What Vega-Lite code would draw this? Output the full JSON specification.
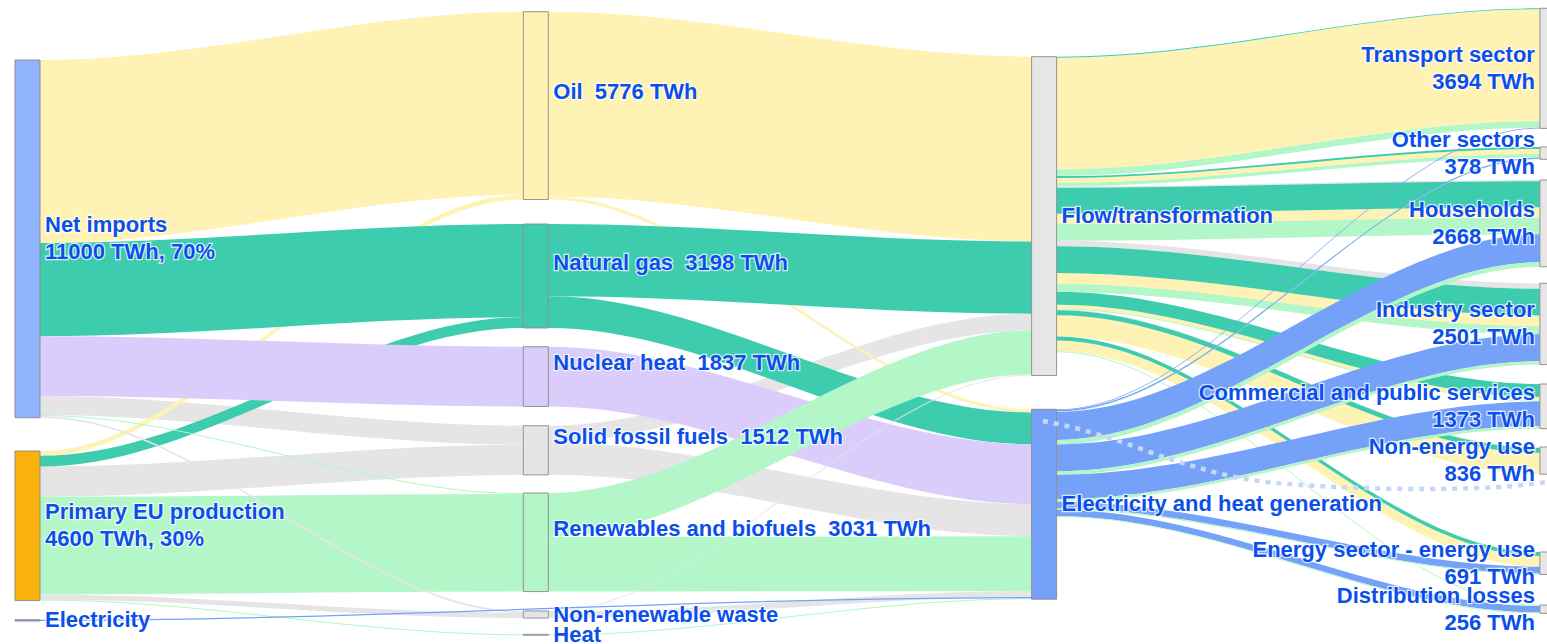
{
  "$schema": "https://vega.github.io/schema/vega-lite/v6.json",
  "width": 1547,
  "height": 644,
  "padding": 0,
  "autosize": {"type": "none"},
  "background": "white",
  "config": {"view": {"stroke": null}},
  "datasets": {
    "nodes": [
      {"name": "Net imports", "col": 0, "top": 1845, "value": 11000, "tone": "imports", "label": ["Net imports", "11000 TWh, 70%"]},
      {"name": "Primary EU production", "col": 0, "top": 13868, "value": 4600, "tone": "production", "label": ["Primary EU production", "4600 TWh, 30%"]},
      {"name": "Electricity", "col": 0, "top": 19056, "value": 40, "tone": "elec", "label": "Electricity"},
      {"name": "Oil", "col": 1, "top": 360, "value": 5776, "tone": "oil", "label": ["Oil \u00a05776 TWh", "\u00a0"]},
      {"name": "Natural gas", "col": 1, "top": 6888, "value": 3198, "tone": "gas", "label": ["Natural gas \u00a03198 TWh", "\u00a0"]},
      {"name": "Nuclear heat", "col": 1, "top": 10661, "value": 1837, "tone": "nuclear", "label": ["Nuclear heat \u00a01837 TWh", "\u00a0"]},
      {"name": "Solid fossil fuels", "col": 1, "top": 13090, "value": 1512, "tone": "solid", "label": ["Solid fossil fuels \u00a01512 TWh", "\u00a0"]},
      {"name": "Renewables and biofuels", "col": 1, "top": 15160, "value": 3031, "tone": "renew", "label": ["Renewables and biofuels \u00a03031 TWh", "\u00a0"]},
      {"name": "Non-renewable waste", "col": 1, "top": 18788, "value": 216, "tone": "solid", "label": "Non-renewable waste"},
      {"name": "Heat", "col": 1, "top": 19505, "value": 30, "tone": "solid", "label": "Heat"},
      {"name": "Flow/transformation", "col": 2, "top": 1744, "value": 9800, "tone": "neutral", "label": "Flow/transformation"},
      {"name": "Electricity and heat generation", "col": 2, "top": 12586, "value": 5840, "tone": "elec", "label": "Electricity and heat generation"},
      {"name": "Transport sector", "col": 3, "top": 255, "value": 3694, "tone": "neutral", "label": ["Transport sector\u00a0", "3694 TWh"]},
      {"name": "Other sectors", "col": 3, "top": 4520, "value": 378, "tone": "neutral", "label": ["Other sectors\u00a0", "378 TWh"]},
      {"name": "Households", "col": 3, "top": 5535, "value": 2668, "tone": "neutral", "label": ["Households\u00a0", "2668 TWh"]},
      {"name": "Industry sector", "col": 3, "top": 8711, "value": 2501, "tone": "neutral", "label": ["Industry sector\u00a0", "2501 TWh"]},
      {"name": "Commercial and public services", "col": 3, "top": 11808, "value": 1373, "tone": "neutral", "label": ["Commercial and public services\u00a0", "1373 TWh"]},
      {"name": "Non-energy use", "col": 3, "top": 13745, "value": 836, "tone": "neutral", "label": ["Non-energy use\u00a0", "836 TWh"]},
      {"name": "Energy sector - energy use", "col": 3, "top": 16974, "value": 691, "tone": "neutral", "label": ["Energy sector - energy use\u00a0", "691 TWh"]},
      {"name": "Distribution losses", "col": 3, "top": 18604, "value": 256, "tone": "neutral", "label": ["Distribution losses\u00a0", "256 TWh"]}
    ],
    "links": [
      {"source": "Net imports", "target": "Solid fossil fuels", "value": 582, "tone": "solid"},
      {"source": "Primary EU production", "target": "Solid fossil fuels", "value": 930, "tone": "solid"},
      {"source": "Solid fossil fuels", "target": "Flow/transformation", "value": 520, "tone": "solid"},
      {"source": "Solid fossil fuels", "target": "Electricity and heat generation", "value": 992, "tone": "solid"},
      {"source": "Net imports", "target": "Oil", "value": 5626, "tone": "oil"},
      {"source": "Primary EU production", "target": "Oil", "value": 150, "tone": "oil"},
      {"source": "Oil", "target": "Flow/transformation", "value": 5680, "tone": "oil"},
      {"source": "Oil", "target": "Electricity and heat generation", "value": 96, "tone": "oil"},
      {"source": "Net imports", "target": "Natural gas", "value": 2868, "tone": "gas"},
      {"source": "Primary EU production", "target": "Natural gas", "value": 330, "tone": "gas"},
      {"source": "Natural gas", "target": "Flow/transformation", "value": 2220, "tone": "gas"},
      {"source": "Natural gas", "target": "Electricity and heat generation", "value": 978, "tone": "gas"},
      {"source": "Net imports", "target": "Nuclear heat", "value": 1837, "tone": "nuclear"},
      {"source": "Nuclear heat", "target": "Electricity and heat generation", "value": 1837, "tone": "nuclear"},
      {"source": "Net imports", "target": "Renewables and biofuels", "value": 31, "tone": "renew"},
      {"source": "Primary EU production", "target": "Renewables and biofuels", "value": 3000, "tone": "renew"},
      {"source": "Renewables and biofuels", "target": "Flow/transformation", "value": 1350, "tone": "renew"},
      {"source": "Renewables and biofuels", "target": "Electricity and heat generation", "value": 1681, "tone": "renew"},
      {"source": "Net imports", "target": "Non-renewable waste", "value": 56, "tone": "solid"},
      {"source": "Primary EU production", "target": "Non-renewable waste", "value": 160, "tone": "solid"},
      {"source": "Non-renewable waste", "target": "Flow/transformation", "value": 30, "tone": "solid"},
      {"source": "Non-renewable waste", "target": "Electricity and heat generation", "value": 186, "tone": "solid"},
      {"source": "Primary EU production", "target": "Heat", "value": 30, "tone": "heat"},
      {"source": "Heat", "target": "Electricity and heat generation", "value": 30, "tone": "heat"},
      {"source": "Electricity", "target": "Electricity and heat generation", "value": 40, "tone": "elec"},
      {"source": "Flow/transformation", "target": "Households", "value": 40, "tone": "solid"},
      {"source": "Flow/transformation", "target": "Industry sector", "value": 170, "tone": "solid"},
      {"source": "Flow/transformation", "target": "Non-energy use", "value": 30, "tone": "solid"},
      {"source": "Flow/transformation", "target": "Transport sector", "value": 3440, "tone": "oil"},
      {"source": "Flow/transformation", "target": "Other sectors", "value": 150, "tone": "oil"},
      {"source": "Flow/transformation", "target": "Households", "value": 310, "tone": "oil"},
      {"source": "Flow/transformation", "target": "Industry sector", "value": 330, "tone": "oil"},
      {"source": "Flow/transformation", "target": "Commercial and public services", "value": 110, "tone": "oil"},
      {"source": "Flow/transformation", "target": "Non-energy use", "value": 656, "tone": "oil"},
      {"source": "Flow/transformation", "target": "Energy sector - energy use", "value": 330, "tone": "oil"},
      {"source": "Flow/transformation", "target": "Transport sector", "value": 30, "tone": "gas"},
      {"source": "Flow/transformation", "target": "Other sectors", "value": 60, "tone": "gas"},
      {"source": "Flow/transformation", "target": "Households", "value": 800, "tone": "gas"},
      {"source": "Flow/transformation", "target": "Industry sector", "value": 820, "tone": "gas"},
      {"source": "Flow/transformation", "target": "Commercial and public services", "value": 400, "tone": "gas"},
      {"source": "Flow/transformation", "target": "Non-energy use", "value": 150, "tone": "gas"},
      {"source": "Flow/transformation", "target": "Energy sector - energy use", "value": 120, "tone": "gas"},
      {"source": "Flow/transformation", "target": "Transport sector", "value": 200, "tone": "renew"},
      {"source": "Flow/transformation", "target": "Other sectors", "value": 110, "tone": "renew"},
      {"source": "Flow/transformation", "target": "Households", "value": 520, "tone": "renew"},
      {"source": "Flow/transformation", "target": "Industry sector", "value": 250, "tone": "renew"},
      {"source": "Flow/transformation", "target": "Commercial and public services", "value": 30, "tone": "renew"},
      {"source": "Flow/transformation", "target": "Distribution losses", "value": 30, "tone": "renew"},
      {"source": "Electricity and heat generation", "target": "Transport sector", "value": 24, "tone": "elec"},
      {"source": "Electricity and heat generation", "target": "Other sectors", "value": 40, "tone": "elec"},
      {"source": "Electricity and heat generation", "target": "Other sectors", "value": 18, "tone": "heat"},
      {"source": "Electricity and heat generation", "target": "Households", "value": 860, "tone": "elec"},
      {"source": "Electricity and heat generation", "target": "Households", "value": 138, "tone": "heat"},
      {"source": "Electricity and heat generation", "target": "Industry sector", "value": 830, "tone": "elec"},
      {"source": "Electricity and heat generation", "target": "Industry sector", "value": 101, "tone": "heat"},
      {"source": "Electricity and heat generation", "target": "Commercial and public services", "value": 750, "tone": "elec"},
      {"source": "Electricity and heat generation", "target": "Commercial and public services", "value": 83, "tone": "heat"},
      {"source": "Electricity and heat generation", "target": "Energy sector - energy use", "value": 210, "tone": "elec"},
      {"source": "Electricity and heat generation", "target": "Energy sector - energy use", "value": 31, "tone": "heat"},
      {"source": "Electricity and heat generation", "target": "Distribution losses", "value": 200, "tone": "elec"},
      {"source": "Electricity and heat generation", "target": "Distribution losses", "value": 26, "tone": "heat"}
    ],
    "lossPath": [
      {"x": 2.0224, "y": 12946},
      {"x": 2.0854, "y": 13161},
      {"x": 2.1542, "y": 13469},
      {"x": 2.2723, "y": 14114},
      {"x": 2.4100, "y": 14699},
      {"x": 2.5674, "y": 14945},
      {"x": 2.7641, "y": 15037},
      {"x": 2.9215, "y": 14975},
      {"x": 3.0140, "y": 14822}
    ]
  },
  "layer": [
    {
      "data": {"name": "links"},
      "transform": [
        {"lookup": "source", "from": {"data": {"name": "nodes"}, "key": "name", "fields": ["col", "top"]}, "as": ["sCol", "sTop"]},
        {"lookup": "target", "from": {"data": {"name": "nodes"}, "key": "name", "fields": ["col", "top"]}, "as": ["tCol", "tTop"]},
        {"calculate": "indexof(['solid','gas','oil','nuclear','renew','elec','heat'], datum.tone)", "as": "rank"},
        {"window": [{"op": "sum", "field": "value", "as": "sCum"}], "groupby": ["source"], "sort": [{"field": "tTop", "order": "ascending"}, {"field": "rank", "order": "ascending"}], "frame": [null, 0]},
        {"window": [{"op": "sum", "field": "value", "as": "tCum"}], "groupby": ["target"], "sort": [{"field": "sTop", "order": "ascending"}, {"field": "rank", "order": "ascending"}], "frame": [null, 0]},
        {"calculate": "datum.sTop + datum.sCum - datum.value", "as": "ys0"},
        {"calculate": "datum.sTop + datum.sCum", "as": "ys1"},
        {"calculate": "datum.tTop + datum.tCum - datum.value", "as": "yt0"},
        {"calculate": "datum.tTop + datum.tCum", "as": "yt1"},
        {"calculate": "datum.source + ' > ' + datum.target + ' : ' + datum.tone", "as": "linkId"},
        {"fold": ["ys0", "ys1", "yt0", "yt1"], "as": ["knot", "knotVal"]},
        {"calculate": "datum.knot === 'ys0' ? datum.sCol + 0.0492 : datum.knot === 'ys1' ? datum.sCol + 0.0512 : datum.knot === 'yt0' ? datum.tCol - 0.002 : datum.tCol", "as": "px"},
        {"calculate": "(datum.knot === 'ys0' || datum.knot === 'ys1') ? datum.ys0 : datum.yt0", "as": "yTop"},
        {"calculate": "(datum.knot === 'ys0' || datum.knot === 'ys1') ? datum.ys1 : datum.yt1", "as": "yBot"}
      ],
      "mark": {"type": "area", "interpolate": "monotone"},
      "encoding": {
        "x": {"field": "px", "type": "quantitative", "scale": {"domain": [-0.02951, 3.01397], "nice": false, "zero": false}, "axis": null},
        "y": {"field": "yTop", "type": "quantitative", "stack": null, "scale": {"domain": [0, 19803], "reverse": true, "nice": false, "zero": false}, "axis": null},
        "y2": {"field": "yBot"},
        "detail": {"field": "linkId"},
        "color": {"field": "tone", "type": "nominal", "legend": null, "scale": {"domain": ["imports", "production", "oil", "gas", "nuclear", "solid", "renew", "heat", "elec", "neutral"], "range": ["#8fb3fc", "#f9b10e", "#fef3b4", "#3dccae", "#dacdfb", "#e5e5e5", "#b3f6c7", "#b3f6c7", "#76a1f8", "#e6e6e6"]}}
      }
    },
    {
      "data": {"name": "nodes"},
      "transform": [
        {"calculate": "datum.col + 0.0492", "as": "colEnd"},
        {"calculate": "datum.top + datum.value", "as": "bottom"}
      ],
      "mark": {"type": "rect", "stroke": "#8a8a8a", "strokeWidth": 1, "strokeOpacity": 0.9},
      "encoding": {
        "x": {"field": "col", "type": "quantitative", "scale": {"domain": [-0.02951, 3.01397], "nice": false, "zero": false}, "axis": null},
        "x2": {"field": "colEnd"},
        "y": {"field": "top", "type": "quantitative", "scale": {"domain": [0, 19803], "reverse": true, "nice": false, "zero": false}, "axis": null},
        "y2": {"field": "bottom"},
        "color": {"field": "tone", "type": "nominal", "legend": null, "scale": {"domain": ["imports", "production", "oil", "gas", "nuclear", "solid", "renew", "heat", "elec", "neutral"], "range": ["#8fb3fc", "#f9b10e", "#fef3b4", "#3dccae", "#dacdfb", "#e5e5e5", "#b3f6c7", "#b3f6c7", "#76a1f8", "#e6e6e6"]}}
      }
    },
    {
      "data": {"name": "lossPath"},
      "mark": {"type": "line", "interpolate": "monotone", "stroke": "#c6d7fa", "strokeWidth": 4.5, "strokeDash": [5, 6]},
      "encoding": {
        "x": {"field": "x", "type": "quantitative", "scale": {"domain": [-0.02951, 3.01397], "nice": false, "zero": false}, "axis": null},
        "y": {"field": "y", "type": "quantitative", "scale": {"domain": [0, 19803], "reverse": true, "nice": false, "zero": false}, "axis": null}
      }
    },
    {
      "data": {"name": "nodes"},
      "transform": [
        {"calculate": "datum.col < 3 ? datum.col + 0.0590 : datum.col - 0.0098", "as": "lx"},
        {"calculate": "datum.top + datum.value / 2 - (isArray(datum.label) ? 415 : 0)", "as": "ly"}
      ],
      "encoding": {
        "x": {"field": "lx", "type": "quantitative", "scale": {"domain": [-0.02951, 3.01397], "nice": false, "zero": false}, "axis": null},
        "y": {"field": "ly", "type": "quantitative", "scale": {"domain": [0, 19803], "reverse": true, "nice": false, "zero": false}, "axis": null},
        "text": {"field": "label"}
      },
      "layer": [
        {
          "transform": [{"filter": "datum.col < 3"}],
          "mark": {"type": "text", "align": "left", "baseline": "middle", "font": "Liberation Sans", "fontWeight": "bold", "fontSize": 22, "lineHeight": 27, "fill": "white", "stroke": "white", "strokeWidth": 2.5, "strokeOpacity": 0.75}
        },
        {
          "transform": [{"filter": "datum.col < 3"}],
          "mark": {"type": "text", "align": "left", "baseline": "middle", "font": "Liberation Sans", "fontWeight": "bold", "fontSize": 22, "lineHeight": 27, "fill": "#0b4feb"}
        },
        {
          "transform": [{"filter": "datum.col === 3"}],
          "mark": {"type": "text", "align": "right", "baseline": "middle", "font": "Liberation Sans", "fontWeight": "bold", "fontSize": 22, "lineHeight": 27, "fill": "white", "stroke": "white", "strokeWidth": 2.5, "strokeOpacity": 0.75}
        },
        {
          "transform": [{"filter": "datum.col === 3"}],
          "mark": {"type": "text", "align": "right", "baseline": "middle", "font": "Liberation Sans", "fontWeight": "bold", "fontSize": 22, "lineHeight": 27, "fill": "#0b4feb"}
        }
      ]
    }
  ]
}
